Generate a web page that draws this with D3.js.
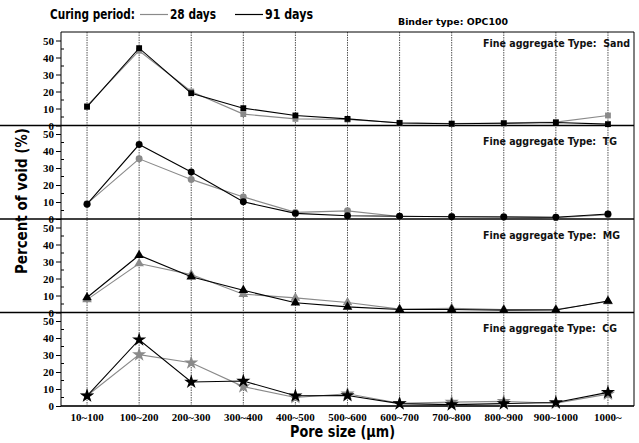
<!DOCTYPE html>
<html><head><meta charset="utf-8">
<script src="https://cdn.jsdelivr.net/npm/d3@7"></script>
<style>body{margin:0;background:#fff}svg{display:block}</style>
</head><body>
<svg id="c" width="639" height="443"></svg>
<script>
const categories = ["10~100","100~200","200~300","300~400","400~500","500~600","600~700","700~800","800~900","900~1000","1000~"];
const panelNames = ["Sand","TG","MG","CG"];
const yTicks = [0,10,20,30,40,50];
const series28 = {
  Sand: [11.5,44,20,6.7,3.9,3.5,1.6,1.2,1.5,2.0,5.9],
  TG:   [9,35.4,23.3,13,3.9,4.8,1.5,1.5,1.3,0.8,2.5],
  MG:   [7.6,28.8,22.3,10.8,8.6,5.9,2.0,2.5,1.8,1.8,6.5],
  CG:   [6,30.2,25.4,11.4,5,7.2,1.6,2.3,2.7,1.6,7]
};
const series91 = {
  Sand: [11,45.5,19,10.2,5.9,3.9,1.5,1,1.3,1.8,0.8],
  TG:   [8.7,43.8,27.6,10.1,3.3,1.9,1.6,1.3,1.2,1.0,2.9],
  MG:   [8.8,33.7,21,13.1,5.7,3.3,1.8,1.8,1.4,1.5,6.8],
  CG:   [6,39,14.1,14.7,6,6.2,1.4,0.8,1.4,2.1,8]
};
const markerTypes = [d3.symbolSquare, d3.symbolCircle, d3.symbolTriangle, d3.symbolStar];
const markerSizes = [34, 38, 40, 62];

const svg = d3.select("#c");
const L = 61, R = 634, T = 32, PH = 93.5;
const GRAY = "#8a8a8a";
const x = d3.scalePoint().domain(categories).range([L, R]).padding(0.5);
const sans = "'DejaVu Sans', Verdana, sans-serif";
const serif = "'Liberation Serif', 'Times New Roman', serif";

// vertical dotted gridlines
svg.append("g").selectAll("line").data(categories).join("line")
  .attr("x1", d => x(d)).attr("x2", d => x(d))
  .attr("y1", T).attr("y2", T + 4*PH)
  .attr("stroke", "#555").attr("stroke-width", 1).attr("stroke-dasharray", "1.5,1");

panelNames.forEach((name, i) => {
  const y = d3.scaleLinear().domain([0, 55]).range([T + (i+1)*PH, T + i*PH]);
  const g = svg.append("g");
  // axis
  const ax = g.append("g").attr("transform", `translate(${L},0)`)
    .call(d3.axisLeft(y).tickValues(yTicks).tickSize(5).tickPadding(2).tickFormat(d3.format("d")));
  ax.select(".domain").remove();
  ax.selectAll("text").attr("font-family", serif).attr("font-weight", "bold").attr("font-size", 11).attr("fill", "#000");
  ax.selectAll("line").attr("stroke", "#000");
  // minor ticks inside
  g.append("g").selectAll("line").data([5,15,25,35,45]).join("line")
    .attr("x1", L).attr("x2", L + 3).attr("y1", d => y(d)).attr("y2", d => y(d))
    .attr("stroke", "#000").attr("stroke-width", 1);
  // zero line (panel separator)
  g.append("line").attr("x1", i === 3 ? L : 0).attr("x2", R).attr("y1", y(0)).attr("y2", y(0))
    .attr("stroke", i === 3 ? "#333" : "#000").attr("stroke-width", i === 3 ? 2 : 1.5);
  // label
  g.append("text").attr("x", 483).attr("y", T + i*PH + (i === 0 ? 15.3 : 19.8))
    .attr("font-family", sans).attr("font-weight", "bold").attr("font-size", 10)
    .attr("fill", "#111")
    .attr("textLength", [147, 134, 137, 134][i]).attr("lengthAdjust", "spacingAndGlyphs")
    .attr("xml:space", "preserve")
    .text("Fine aggregate Type:  " + name);

  const line = d3.line().x((d, j) => x(categories[j])).y(d => y(d));
  [[series28[name], GRAY], [series91[name], "#000"]].forEach(([vals, col]) => {
    g.append("path").attr("d", line(vals)).attr("fill", "none").attr("stroke", col).attr("stroke-width", 1.1);
    const sym = d3.symbol().type(markerTypes[i]).size(markerSizes[i]);
    g.append("g").selectAll("path").data(vals).join("path")
      .attr("transform", (d, j) => `translate(${x(categories[j])},${y(d)})`)
      .attr("d", sym).attr("fill", col);
  });
});

// frame: left axis line, top and right border
svg.append("line").attr("x1", L).attr("x2", L).attr("y1", T).attr("y2", T + 4*PH).attr("stroke", "#000").attr("stroke-width", 1);
svg.append("line").attr("x1", L).attr("x2", R).attr("y1", T).attr("y2", T).attr("stroke", "#000").attr("stroke-width", 1);
svg.append("line").attr("x1", R).attr("x2", R).attr("y1", T).attr("y2", T + 4*PH).attr("stroke", "#000").attr("stroke-width", 1);

// x tick labels
svg.append("g").selectAll("text").data(categories).join("text")
  .attr("x", d => x(d)).attr("y", 421).attr("text-anchor", "middle")
  .attr("font-family", serif).attr("font-weight", "bold").attr("font-size", 11)
  .text(d => d);

// axis titles
svg.append("text").attr("x", 342.5).attr("y", 437).attr("text-anchor", "middle")
  .attr("font-family", sans).attr("font-weight", "bold").attr("font-size", 15)
  .attr("textLength", 105).attr("lengthAdjust", "spacingAndGlyphs")
  .text("Pore size (μm)");
svg.append("text").attr("transform", "translate(27,201) rotate(-90)").attr("text-anchor", "middle")
  .attr("font-family", sans).attr("font-weight", "bold").attr("font-size", 15)
  .attr("textLength", 146).attr("lengthAdjust", "spacingAndGlyphs")
  .text("Percent of void (%)");

// legend
const lg = svg.append("g").attr("font-family", sans).attr("font-weight", "bold").attr("font-size", 14);
lg.append("text").attr("x", 50).attr("y", 19).attr("textLength", 85).attr("lengthAdjust", "spacingAndGlyphs").text("Curing period:");
lg.append("line").attr("x1", 140).attr("x2", 168).attr("y1", 14.5).attr("y2", 14.5).attr("stroke", GRAY).attr("stroke-width", 1.2);
lg.append("text").attr("x", 170).attr("y", 19).attr("textLength", 46).attr("lengthAdjust", "spacingAndGlyphs").text("28 days");
lg.append("line").attr("x1", 235).attr("x2", 263).attr("y1", 14.5).attr("y2", 14.5).attr("stroke", "#000").attr("stroke-width", 1.2);
lg.append("text").attr("x", 265).attr("y", 19).attr("textLength", 48).attr("lengthAdjust", "spacingAndGlyphs").text("91 days");
svg.append("text").attr("x", 398).attr("y", 25).attr("font-family", sans).attr("font-weight", "bold").attr("font-size", 9.5)
  .attr("textLength", 110).attr("lengthAdjust", "spacingAndGlyphs").text("Binder type: OPC100");
</script>
</body></html>
